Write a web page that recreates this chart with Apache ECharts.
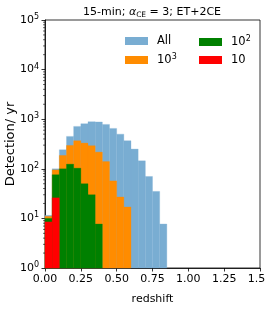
<!DOCTYPE html>
<html>
<head>
<meta charset="utf-8">
<script src="https://cdn.jsdelivr.net/npm/echarts@6/dist/echarts.min.js"></script>
<style>html,body{margin:0;padding:0;background:#fff}#c{width:266px;height:316px}</style>
</head>
<body>
<div id="c"></div>
<script>
// bin left edges (width 0.05)
const binLefts = [0.00,0.05,0.10,0.15,0.20,0.25,0.30,0.35,0.40,0.45,0.50,0.55,0.60,0.65,0.70,0.75,0.80];
const binWidth = 0.05;
// detections per year per bin
const allVals  = [11.5, 100, 242, 450, 716, 811, 890, 880, 785, 652, 500, 368, 250, 145, 70, 35, 7.7];
const vals1e3  = [11, 95, 186, 296, 368, 330, 292, 217, 140, 57, 27, 17];
const vals1e2  = [10, 76, 100, 124, 103, 50, 30, 7.7];
const vals10   = [8.5, 26];
const xTicks = [0, 0.25, 0.5, 0.75, 1.0, 1.25, 1.5];
const minorTickVals = [];
[1,10,100,1000,10000].forEach(d => { for (let m = 2; m <= 9; m++) minorTickVals.push(m*d); });

const FONT = 'DejaVu Sans';
function toData(vals){ return vals.map((v,i)=>[binLefts[i], binLefts[i]+binWidth, v]); }
function histSeries(name, vals, color){
  return {
    name, type:'custom', data: toData(vals),
    encode:{x:[0,1], y:2},
    itemStyle:{color},
    renderItem(params, api){
      const p0 = api.coord([api.value(0), api.value(2)]);
      const p1 = api.coord([api.value(1), 1]);
      return {type:'rect', shape:{x:p0[0], y:p0[1], width:p1[0]-p0[0], height:p1[1]-p0[1]},
              style:{fill:color, stroke:color, lineWidth:0.3}};
    }
  };
}
const names = {'All':'All','1e3':'{b|10}{s|3}','1e2':'{b|10}{s|2}','10':'{b|10}'};
const legendRich = {b:{fontSize:11.5, fontFamily:FONT, color:'#000'}, s:{fontSize:8, fontFamily:FONT, color:'#000', verticalAlign:'top', padding:[0,0,6,0]}};
const chart = echarts.init(document.getElementById('c'), null, {renderer:'canvas'});
chart.setOption({
  animation:false,
  title:{text:'15-min; {i|α}{sub|CE} = 3; ET+2CE', left:152, top:5, padding:0, textAlign:'center',
    textStyle:{fontSize:11, fontWeight:'normal', fontFamily:FONT, color:'#000',
      rich:{i:{fontSize:11, fontStyle:'italic', fontFamily:FONT}, sub:{fontSize:7.5, fontFamily:FONT, padding:[6,0,0,0]}}}},
  grid:{left:45, right:6, top:20, bottom:48, show:true, borderColor:'#000', borderWidth:0.8,
        containLabel:false, outerBoundsMode:'none'},
  legend:[
    {data:['All','1e3'], orient:'vertical', left:125, top:35, padding:0, itemWidth:23, itemHeight:8, itemGap:6, icon:'rect',
     formatter:n=>names[n], textStyle:{fontSize:11.5, fontFamily:FONT, color:'#000', padding:[0,0,0,4], rich:legendRich}},
    {data:['1e2','10'], orient:'vertical', left:199, top:35, padding:0, itemWidth:23, itemHeight:8, itemGap:6, icon:'rect',
     formatter:n=>names[n], textStyle:{fontSize:11.5, fontFamily:FONT, color:'#000', padding:[0,0,0,4], rich:legendRich}}
  ],
  xAxis:{type:'value', min:0, max:1.5, interval:0.25,
    name:'redshift', nameLocation:'middle', nameGap:26, nameMoveOverlap:false,
    nameTextStyle:{fontSize:11, fontFamily:FONT, color:'#000'},
    axisLine:{lineStyle:{color:'#000', width:0.8}}, axisTick:{length:3.5, lineStyle:{color:'#000', width:0.8}},
    splitLine:{show:false},
    axisLabel:{margin:6, fontSize:11, fontFamily:FONT, color:'#000', hideOverlap:false, formatter:v=>v.toFixed(2)}},
  yAxis:{type:'log', logBase:10, min:1, max:100000,
    name:'Detection/ yr', nameLocation:'middle', nameGap:28, nameMoveOverlap:false,
    nameTextStyle:{fontSize:13, fontFamily:FONT, color:'#000'},
    axisLine:{show:true, lineStyle:{color:'#000', width:0.8}}, axisTick:{show:true, length:3.5, lineStyle:{color:'#000', width:0.8}},
    splitLine:{show:false},
    axisLabel:{margin:6, fontFamily:FONT, color:'#000', hideOverlap:false,
      formatter:v=>'{b|10}{s|'+Math.round(Math.log10(v))+'}',
      rich:{b:{fontSize:11, fontFamily:FONT, color:'#000'}, s:{fontSize:8, fontFamily:FONT, color:'#000', verticalAlign:'top', padding:[0,0,6,0]}}}},
  series:[
    histSeries('All', allVals, '#79add2'),
    histSeries('1e3', vals1e3, '#ff8c00'),
    histSeries('1e2', vals1e2, '#008000'),
    histSeries('10', vals10, '#ff0000'),
    {type:'custom', silent:true, clip:false, data:minorTickVals.map(v=>[0,v]), encode:{x:0,y:1},
     renderItem(params, api){
       const p = api.coord([0, api.value(1)]);
       return {type:'line', shape:{x1:p[0]-2, y1:p[1], x2:p[0], y2:p[1]}, style:{stroke:'#000', lineWidth:0.6}};
     }}
  ]
});
</script>
</body>
</html>
